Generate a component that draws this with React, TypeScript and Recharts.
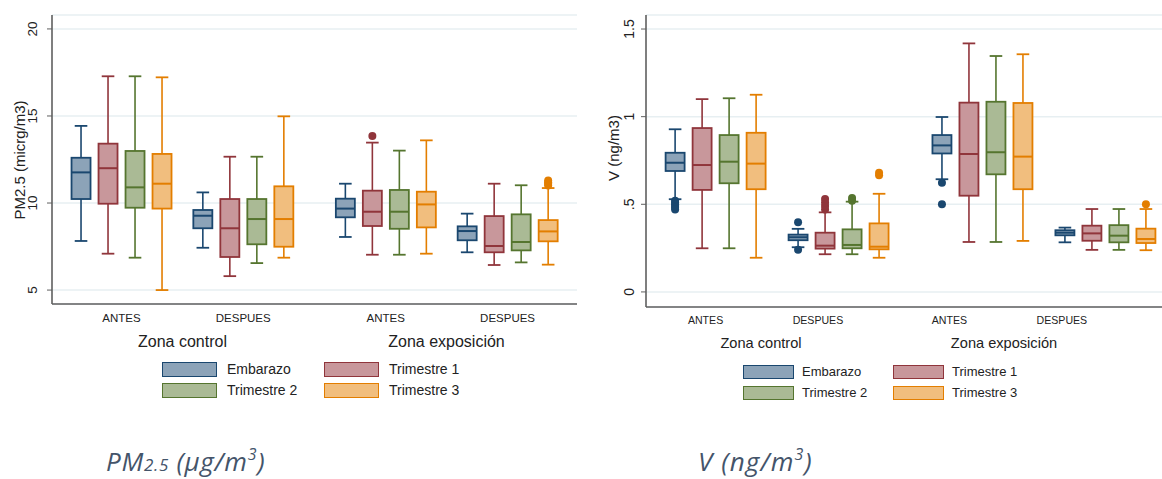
import { ComposedChart, Bar, XAxis, YAxis, CartesianGrid } from 'recharts'

const periods = ['ANTES', 'DESPUES', 'ANTES', 'DESPUES']
const zones = ['Zona control', 'Zona exposición']
const seriesNames = ['Embarazo', 'Trimestre 1', 'Trimestre 2', 'Trimestre 3']

// PM2.5: [min, q1, median, q3, max] for each period (control antes/despues, exposicion antes/despues)
const pm25Embarazo = [
  [7.82, 10.23, 11.76, 12.6, 14.43],
  [7.43, 8.55, 9.27, 9.6, 10.61],
  [8.05, 9.18, 9.68, 10.25, 11.11],
  [7.17, 7.86, 8.39, 8.66, 9.39],
]
const pm25Trim1 = [
  [7.09, 9.96, 12.0, 13.41, 17.28],
  [5.8, 6.9, 8.55, 10.23, 12.66],
  [7.03, 8.68, 9.5, 10.71, 13.47],
  [6.44, 7.17, 7.53, 9.25, 11.11],
]
const pm25Trim2 = [
  [6.86, 9.73, 10.9, 12.99, 17.28],
  [6.55, 7.63, 9.08, 10.23, 12.66],
  [7.03, 8.52, 9.5, 10.75, 13.01],
  [6.59, 7.28, 7.76, 9.35, 11.02],
]
const pm25Trim3 = [
  [5.0, 9.68, 11.11, 12.82, 17.22],
  [6.86, 7.49, 9.08, 10.96, 14.98],
  [7.09, 8.6, 9.92, 10.65, 13.6],
  [6.46, 7.8, 8.37, 9.02, 10.86],
]
// outside values: per series, then per period
const pm25Outliers = [
  [[], [], [], []],
  [[], [], [13.85], []],
  [[], [], [], []],
  [[], [], [], [11.0, 11.1, 11.2, 11.3]],
]

// V (ng/m3)
const vEmbarazo = [
  [0.529, 0.69, 0.737, 0.794, 0.928],
  [0.255, 0.295, 0.312, 0.327, 0.36],
  [0.643, 0.79, 0.836, 0.895, 0.998],
  [0.283, 0.323, 0.338, 0.352, 0.367],
]
const vTrim1 = [
  [0.249, 0.582, 0.724, 0.935, 1.1],
  [0.215, 0.247, 0.264, 0.338, 0.454],
  [0.285, 0.549, 0.787, 1.08, 1.418],
  [0.24, 0.292, 0.334, 0.378, 0.473],
]
const vTrim2 = [
  [0.249, 0.62, 0.743, 0.895, 1.105],
  [0.215, 0.249, 0.268, 0.357, 0.515],
  [0.285, 0.671, 0.797, 1.085, 1.346],
  [0.24, 0.283, 0.321, 0.381, 0.473],
]
const vTrim3 = [
  [0.195, 0.586, 0.732, 0.908, 1.125],
  [0.195, 0.243, 0.258, 0.391, 0.56],
  [0.291, 0.586, 0.772, 1.078, 1.356],
  [0.238, 0.279, 0.302, 0.361, 0.473],
]
const vOutliers = [
  [[0.52, 0.51, 0.5, 0.49, 0.48, 0.47], [0.397, 0.241], [0.623, 0.5], []],
  [[], [0.47, 0.49, 0.51, 0.53], [], []],
  [[], [0.52, 0.536], [], []],
  [[], [0.665, 0.68], [], [0.5]],
]

const pm25Ticks = [5, 10, 15, 20]
const vTicks = [0, 0.5, 1, 1.5]

// layout: group positions on the x axis (extra gap between the two zones)
const X_POS = [1, 2, 3.17, 4.17]
const X_DOMAIN = [0.43, 4.74]

const COLORS = [
  { stroke: '#1a476f', fill: '#8ca3b8' },
  { stroke: '#90353b', fill: '#c8979b' },
  { stroke: '#55752f', fill: '#aaba95' },
  { stroke: '#e37e00', fill: '#f1be7e' },
]
const AXIS = '#5f5f5f'
const GRID = '#e7eff2'
const FONT = '"Liberation Sans", Arial, sans-serif'

function buildRows(series: number[][][], outliers: number[][][]) {
  return X_POS.map((x, i) => {
    const row: Record<string, any> = { x }
    series.forEach((s, k) => {
      row[`s${k}`] = [s[i][1], s[i][3]]
      row[`st${k}`] = s[i]
      row[`o${k}`] = outliers[k][i]
    })
    return row
  })
}

function BoxShape(props: any) {
  const { x, y, width, height, payload, k } = props
  const stats: number[] = payload?.[`st${k}`]
  if (!stats) return null
  const outs: number[] = payload[`o${k}`] || []
  const c = COLORS[k]
  const [mn, q1, md, q3, mx] = stats
  const top = Math.min(y, y + height)
  const h = Math.abs(height)
  const ppu = h / (q3 - q1)
  const py = (v: number) => top + (q3 - v) * ppu
  const cx = x + width / 2
  const cap = width * 0.3
  return (
    <g>
      <line x1={cx} x2={cx} y1={py(mx)} y2={top} stroke={c.stroke} strokeWidth={1.6} />
      <line x1={cx} x2={cx} y1={top + h} y2={py(mn)} stroke={c.stroke} strokeWidth={1.6} />
      <line x1={cx - cap} x2={cx + cap} y1={py(mx)} y2={py(mx)} stroke={c.stroke} strokeWidth={1.8} />
      <line x1={cx - cap} x2={cx + cap} y1={py(mn)} y2={py(mn)} stroke={c.stroke} strokeWidth={1.8} />
      <rect x={x + 1} y={top} width={width - 2} height={h} fill={c.fill} stroke={c.stroke} strokeWidth={1.8} />
      <line x1={x + 1} x2={x + width - 1} y1={py(md)} y2={py(md)} stroke={c.stroke} strokeWidth={2} />
      {outs.map((v, i) => (
        <circle key={i} cx={cx} cy={py(v)} r={4} fill={c.stroke} />
      ))}
    </g>
  )
}

function XTick(props: any) {
  const { x, y, payload, fontSize, dy, squash } = props
  const i = X_POS.indexOf(payload.value)
  const tx = squash ? squash(x) : x
  return (
    <text x={tx} y={y} dy={dy} textAnchor="middle" fontSize={fontSize} fontFamily={FONT} fill="#222">
      {periods[i]}
    </text>
  )
}

function YTick(props: any) {
  const { x, y, payload, fontSize, shift, fmt } = props
  const tx = x + shift
  return (
    <text x={tx} y={y} transform={`rotate(-90 ${tx} ${y})`} textAnchor="middle" dominantBaseline="central"
      fontSize={fontSize} fontFamily={FONT} fill="#222">
      {fmt(payload.value)}
    </text>
  )
}

function YTitle(props: any) {
  const { text, tx, ty, fontSize } = props
  return (
    <text x={tx} y={ty} transform={`rotate(-90 ${tx} ${ty})`} textAnchor="middle" dominantBaseline="central"
      fontSize={fontSize} fontFamily={FONT} fill="#222">
      {text}
    </text>
  )
}

function BoxChart(props: any) {
  const { rows, domain, ticks, fmt, width, height, yAxisWidth, title, titleX, titleY, yTickShift, yTickFont, xTickFont, xTickDy, squash } = props
  return (
    <ComposedChart width={width} height={height} data={rows} margin={{ top: 15, right: 0, bottom: 0, left: 0 }} barSize={21} barGap={6}>
      <CartesianGrid horizontal vertical={false} stroke={GRID} strokeWidth={1.5} />
      <XAxis dataKey="x" type="number" domain={X_DOMAIN} ticks={X_POS} allowDataOverflow interval={0}
        height={26} tickLine={false} axisLine={{ stroke: AXIS, strokeWidth: 1.6 }}
        tick={(p: any) => <XTick {...p} fontSize={xTickFont} dy={xTickDy} squash={squash} />} />
      <YAxis type="number" domain={domain} ticks={ticks} allowDataOverflow interval={0} width={yAxisWidth}
        tickSize={5} tickLine={{ stroke: AXIS }} axisLine={{ stroke: AXIS, strokeWidth: 1.6 }}
        tick={(p: any) => <YTick {...p} fontSize={yTickFont} shift={yTickShift} fmt={fmt} />}
        label={<YTitle text={title} tx={titleX} ty={titleY} fontSize={15} />} />
      {[0, 1, 2, 3].map(k => (
        <Bar key={k} dataKey={`s${k}`} isAnimationActive={false} shape={(p: any) => <BoxShape {...p} k={k} />} />
      ))}
    </ComposedChart>
  )
}

function LegendBlock(props: any) {
  const { x1, x2, textGap, y1, y2, sw, sh, fontSize } = props
  const pos = [[x1, y1], [x2, y1], [x1, y2], [x2, y2]]
  return (
    <>
      {seriesNames.map((name, k) => (
        <div key={name}>
          <div style={{
            position: 'absolute', left: pos[k][0], top: pos[k][1], width: sw, height: sh, boxSizing: 'border-box',
            background: COLORS[k].fill, border: `1.5px solid ${COLORS[k].stroke}`,
          }} />
          <div style={{
            position: 'absolute', left: pos[k][0] + sw + textGap, top: pos[k][1] + sh / 2 - fontSize * 0.6,
            fontSize, lineHeight: `${fontSize * 1.2}px`, color: '#222', whiteSpace: 'nowrap',
          }}>{name}</div>
        </div>
      ))}
    </>
  )
}

function ZoneLabel({ text, cx, cy, fontSize }: any) {
  return (
    <div style={{
      position: 'absolute', left: cx - 100, width: 200, top: cy - fontSize * 0.6, textAlign: 'center',
      fontSize, lineHeight: `${fontSize * 1.2}px`, color: '#222',
    }}>{text}</div>
  )
}

const captionStyle: React.CSSProperties = {
  position: 'absolute', top: 445, fontStyle: 'italic', fontSize: 26, lineHeight: '32px', letterSpacing: 0.7,
  color: '#44546a', fontFamily: '"Open Sans", sans-serif', whiteSpace: 'nowrap',
}
const supStyle: React.CSSProperties = { fontSize: 16, position: 'relative', top: -11 }
const subStyle: React.CSSProperties = { fontSize: 17 }

export default function App() {
  const pmRows = buildRows([pm25Embarazo, pm25Trim1, pm25Trim2, pm25Trim3], pm25Outliers)
  const vRows = buildRows([vEmbarazo, vTrim1, vTrim2, vTrim3], vOutliers)
  const fmtV = (v: number) => (v === 0.5 ? '.5' : String(v))
  // tick labels under the right panel sit slightly compressed
  const squashRight = (x: number) => 56 - 4.5 + 0.914 * (x - 56)

  return (
    <div style={{ position: 'absolute', left: 0, top: 0, width: 1162, height: 479, overflow: 'hidden', background: '#fff', fontFamily: FONT }}>
      <div style={{ position: 'absolute', left: 0, top: 0 }}>
        <BoxChart rows={pmRows} domain={[4.2, 20.8]} ticks={pm25Ticks} fmt={(v: number) => String(v)}
          width={577} height={330} yAxisWidth={52} title="PM2.5 (micrg/m3)" titleX={19} titleY={160}
          yTickShift={-12} yTickFont={13.5} xTickFont={11.5} xTickDy={10} />
      </div>
      <div style={{ position: 'absolute', left: 590, top: 0 }}>
        <BoxChart rows={vRows} domain={[-0.086, 1.58]} ticks={vTicks} fmt={fmtV}
          width={586} height={333} yAxisWidth={56} title="V (ng/m3)" titleX={23} titleY={148}
          yTickShift={-10} yTickFont={14} xTickFont={10.6} xTickDy={9} squash={squashRight} />
      </div>

      <ZoneLabel text={zones[0]} cx={182.5} cy={342} fontSize={16} />
      <ZoneLabel text={zones[1]} cx={446.5} cy={342} fontSize={16} />
      <ZoneLabel text={zones[0]} cx={761} cy={344} fontSize={14.6} />
      <ZoneLabel text={zones[1]} cx={1004} cy={344} fontSize={14.6} />

      <LegendBlock x1={162} x2={324} y1={362} y2={383} sw={55} sh={15} textGap={10} fontSize={14} />
      <LegendBlock x1={743} x2={893} y1={365} y2={386} sw={51} sh={14} textGap={8} fontSize={13} />

      <div style={{ ...captionStyle, left: 106 }}>
        PM<span style={subStyle}>2.5</span> (µg/m<span style={supStyle}>3</span>)
      </div>
      <div style={{ ...captionStyle, left: 698, letterSpacing: 1.1 }}>
        V (ng/m<span style={supStyle}>3</span>)
      </div>
    </div>
  )
}
